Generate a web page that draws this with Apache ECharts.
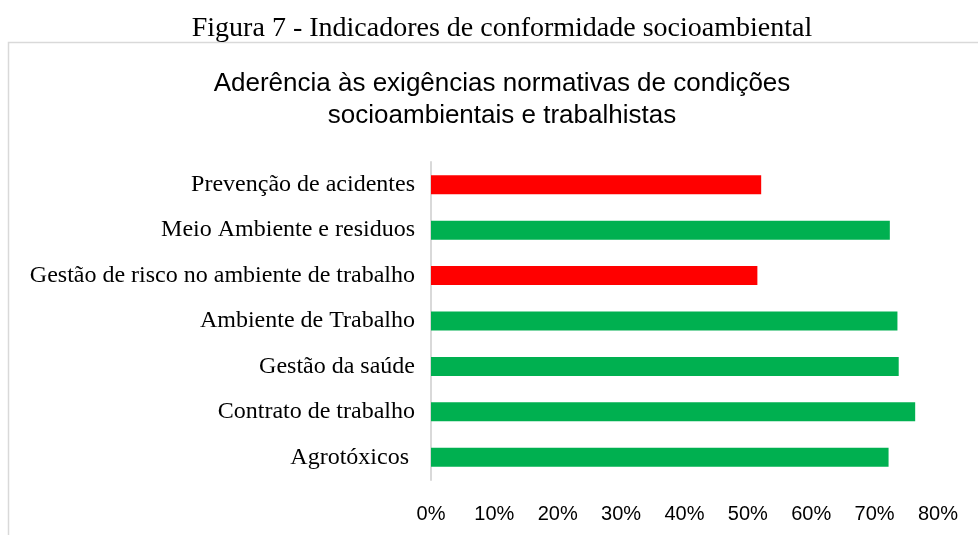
<!DOCTYPE html>
<html>
<head>
<meta charset="utf-8">
<script src="https://cdn.jsdelivr.net/npm/echarts@6/dist/echarts.min.js"></script>
<style>
  html, body { margin: 0; padding: 0; background: #fff; }
  #chart { width: 978px; height: 535px; }
</style>
</head>
<body>
<div id="chart"></div>
<script>
// categories top to bottom
const categories = [
  'Prevenção de acidentes',
  'Meio Ambiente e residuos',
  'Gestão de risco no ambiente de trabalho',
  'Ambiente de Trabalho',
  'Gestão da saúde',
  'Contrato de trabalho',
  'Agrotóxicos ',
];
const values = [52.1, 72.4, 51.5, 73.6, 73.8, 76.4, 72.2];
const belowTarget = [true, false, true, false, false, false, false];
const xTicks = [0, 10, 20, 30, 40, 50, 60, 70, 80];

const RED = '#ff0000';
const GREEN = '#00b050';

const chart = echarts.init(document.getElementById('chart'));

chart.setOption({
  backgroundColor: '#fff',
  animation: false,
  title: [
    {
      text: 'Figura 7 - Indicadores de conformidade socioambiental',
      left: 497, top: 10, textAlign: 'center',
      textStyle: { fontFamily: 'Liberation Serif, serif', fontSize: 28, fontWeight: 'normal', color: '#000' },
    },
    {
      text: 'Aderência às exigências normativas de condições\nsocioambientais e trabalhistas',
      left: 497, top: 63, textAlign: 'center',
      textStyle: { fontFamily: 'Liberation Sans Narrow, Liberation Sans, sans-serif', fontSize: 26, fontWeight: 'normal', color: '#000', lineHeight: 32 },
    },
  ],
  graphic: [
    {
      type: 'rect',
      shape: { x: 8.5, y: 42.5, width: 1100, height: 700 },
      style: { fill: 'none', stroke: '#d9d9d9', lineWidth: 1.5 },
      silent: true,
    },
  ],
  grid: { left: 431, right: 40, top: 162, bottom: 55, containLabel: false },
  xAxis: {
    type: 'value',
    min: 0,
    max: 80,
    interval: 10,
    axisLine: { show: false },
    axisTick: { show: false },
    splitLine: { show: false },
    axisLabel: {
      color: '#000',
      fontFamily: 'Liberation Sans, sans-serif',
      fontSize: 20,
      margin: 24,
      formatter: (v) => (xTicks.includes(v) ? v + '%' : ''),
    },
  },
  yAxis: {
    type: 'category',
    inverse: true,
    data: categories,
    axisLine: { show: true, lineStyle: { color: '#d9d9d9', width: 2 } },
    axisTick: { show: false },
    axisLabel: {
      color: '#000',
      fontFamily: 'Liberation Serif, serif',
      fontSize: 24,
      margin: 16,
    },
  },
  series: [
    {
      type: 'bar',
      barWidth: 19,
      data: values.map((v, i) => ({
        value: v,
        itemStyle: { color: belowTarget[i] ? RED : GREEN },
      })),
    },
  ],
});
</script>
</body>
</html>
